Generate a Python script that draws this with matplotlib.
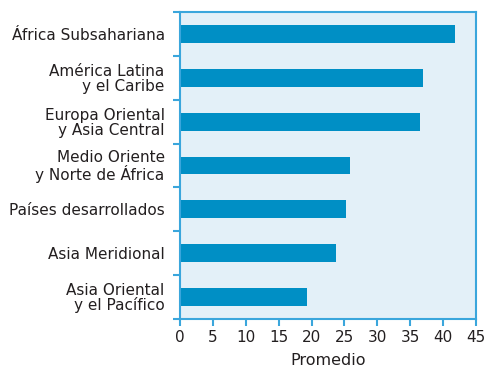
import matplotlib
matplotlib.use("Agg")
import matplotlib.pyplot as plt
import numpy as np

categories = ["África Subsahariana", "América Latina\ny el Caribe", "Europa Oriental\ny Asia Central",
              "Medio Oriente\ny Norte de África", "Países desarrollados", "Asia Meridional",
              "Asia Oriental\ny el Pacífico"]
values = [41.8, 36.9, 36.5, 25.8, 25.2, 23.7, 19.3]
xticks = [0, 5, 10, 15, 20, 25, 30, 35, 40, 45]

plt.rcParams['font.family'] = ['DejaVu Sans']
text_color = "#231f20"
spine_color = "#3aa6dc"

fig = plt.figure(figsize=(4.85, 3.68), dpi=100)
ax = fig.add_axes([180/485, 1-319/368, (476-180)/485, (319-12)/368])
ax.set_facecolor("#e3f0f8")
y = np.arange(len(categories))
ax.barh(y, values, height=0.41, color="#008fc5", zorder=2)
ax.set_xlim(0, 45)
ax.set_ylim(len(categories)-0.5, -0.5)
ax.set_xticks(xticks)
ax.set_xticklabels([str(t) for t in xticks], fontsize=11, color=text_color)
ax.set_yticks(y)
ax.set_yticklabels(categories, fontsize=11, color=text_color, linespacing=0.95)
ax.tick_params(axis='y', which='major', length=0, pad=11)
ax.set_yticks(np.arange(-0.5, len(categories), 1), minor=True)
ax.tick_params(axis='y', which='minor', length=5, width=1.5, color=spine_color, direction='out')
ax.tick_params(axis='x', which='major', length=5, width=1.5, color=spine_color, direction='out', pad=3)
for s in ax.spines.values():
    s.set_color(spine_color)
    s.set_linewidth(1.5)
ax.set_xlabel("Promedio", fontsize=11.5, color=text_color, labelpad=6)
fig.savefig("out.png", dpi=100)
